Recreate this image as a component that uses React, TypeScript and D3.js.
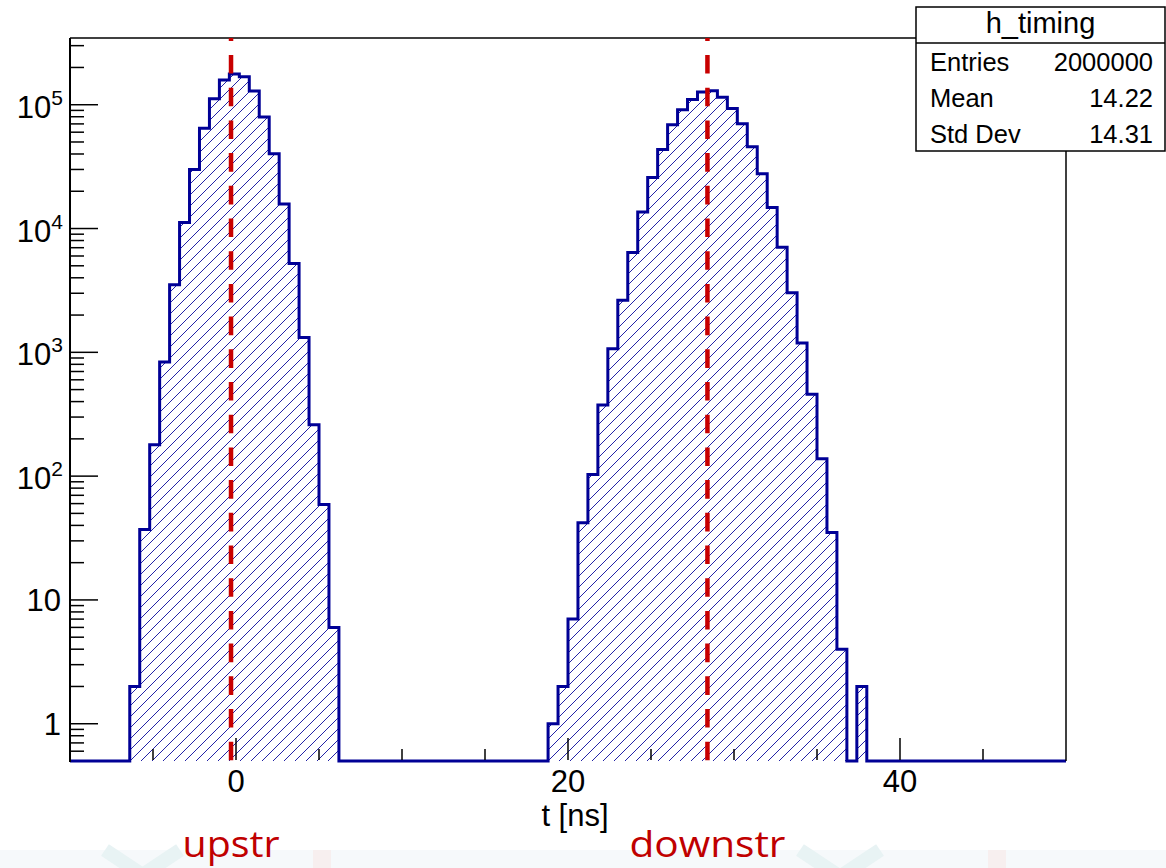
import React from 'react';
import * as d3 from 'd3';

// ---------- data ----------
const binLow = -10;
const binHigh = 50;
const binWidth = 0.6;
const nBins = 100;

const upstrFirstEdge = -6.4;
const upstrCounts = [2, 37, 179, 834, 3520, 11200, 30000, 64600, 111700, 158600, 177000, 168000, 128900, 79600, 40100, 15800, 5210, 1320, 260, 59, 6];

const downstrFirstEdge = 18.8;
const downstrCounts = [1, 2, 7, 42, 103, 375, 1070, 2640, 6400, 13600, 25800, 43500, 68900, 91200, 110000, 126800, 129800, 114800, 93300, 70100, 45800, 27700, 14800, 7060, 3030, 1190, 459, 138, 35, 4, 0, 2];

const markerPositions = [-0.3, 28.4];
const markerLabels = ['upstr', 'downstr'];

const xMajorTicks = [0, 20, 40];
const xMinorTicks = [-5, 5, 10, 15, 25, 30, 35, 45];
const yDecadeExps = [0, 1, 2, 3, 4, 5];
const yMin = 0.5;
const yMax = 345900;

const statsTitle = 'h_timing';
const statsLabels = ['Entries', 'Mean', 'Std Dev'];
const statsValues = ['2000000', '14.22', '14.31'];

const xTitle = 't [ns]';

// ---------- layout ----------
const W = 1166;
const H = 868;
const L = 70, R = 1066, T = 38, B = 761;
const FONT = '"Liberation Sans", Arial, Helvetica, sans-serif';
const HIST_BLUE = '#000096';
const RED = '#c80000';

export default function App() {
  const x = d3.scaleLinear().domain([binLow, binHigh]).range([L, R]);
  const y = d3.scaleLog().domain([yMin, yMax]).range([B, T]);

  const counts: number[] = new Array(nBins).fill(0);
  upstrCounts.forEach((c, i) => {
    const idx = Math.round((upstrFirstEdge - binLow) / binWidth) + i;
    counts[idx] = c;
  });
  downstrCounts.forEach((c, i) => {
    const idx = Math.round((downstrFirstEdge - binLow) / binWidth) + i;
    counts[idx] = c;
  });

  let d = `M${x(binLow)},${B}`;
  counts.forEach((c, i) => {
    const xl = x(binLow + i * binWidth);
    const xr = x(binLow + (i + 1) * binWidth);
    const yy = c > 0 ? y(c) : B;
    d += `L${xl},${yy}L${xr},${yy}`;
  });
  d += `L${x(binHigh)},${B}`;

  const yMinor: number[] = [];
  for (let e = -1; e <= 5; e++) {
    for (let k = 2; k <= 9; k++) {
      const v = k * Math.pow(10, e);
      if (v > yMin * 1.0001 && v < yMax) yMinor.push(v);
    }
  }

  const boxL = 916, boxR = 1165, boxT = 7, boxB = 151, boxSep = 43;

  return (
    <svg width={W} height={H} style={{ position: 'absolute', left: 0, top: 0, display: 'block', background: '#fff' }}>
      <defs>
        <pattern id="hatch" patternUnits="userSpaceOnUse" width="11" height="11">
          <path d="M0,11 L11,0 M-3,3 L3,-3 M8,14 L14,8" stroke="#0a0a9c" strokeWidth="0.9" />
        </pattern>
        <clipPath id="plotClip">
          <rect x={L} y={T} width={R - L} height={B - T + 3} />
        </clipPath>
      </defs>

      {/* faint slide background at the bottom */}
      <rect x={0} y={850} width={W} height={18} fill="#f6f9fb" />
      <g stroke="#e8f3f4" strokeWidth={14}>
        <line x1={105} y1={850} x2={150} y2={880} />
        <line x1={180} y1={850} x2={135} y2={880} />
        <line x1={800} y1={850} x2={845} y2={880} />
        <line x1={880} y1={850} x2={835} y2={880} />
      </g>
      <rect x={313} y={850} width={18} height={18} fill="#f7efef" />
      <rect x={988} y={850} width={18} height={18} fill="#f7efef" />

      {/* histogram */}
      <g clipPath="url(#plotClip)">
        <path d={d + 'Z'} fill="url(#hatch)" stroke="none" />
        <path d={d} fill="none" stroke={HIST_BLUE} strokeWidth={3} strokeLinejoin="miter" />
      </g>

      {/* frame */}
      <line x1={L} y1={T} x2={boxL} y2={T} stroke="#000" strokeWidth={1.5} />
      <line x1={R} y1={boxB} x2={R} y2={B} stroke="#000" strokeWidth={1.5} />
      <line x1={L} y1={T} x2={L} y2={B + 1} stroke="#000" strokeWidth={2} />

      {/* x ticks */}
      {xMajorTicks.map((t) => (
        <line key={'xM' + t} x1={x(t)} x2={x(t)} y1={B - 1} y2={B - 23} stroke="#000" strokeWidth={1.5} />
      ))}
      {xMinorTicks.map((t) => (
        <line key={'xm' + t} x1={x(t)} x2={x(t)} y1={B - 1} y2={B - 12} stroke="#000" strokeWidth={1.5} />
      ))}
      {xMajorTicks.map((t) => (
        <text key={'xl' + t} x={x(t)} y={792} textAnchor="middle" fontFamily={FONT} fontSize={31} fill="#000">
          {t}
        </text>
      ))}
      <text x={575} y={826} textAnchor="middle" fontFamily={FONT} fontSize={31} fill="#000">{xTitle}</text>

      {/* y ticks */}
      {yDecadeExps.map((e) => (
        <line key={'yM' + e} x1={L} x2={L + 28} y1={y(Math.pow(10, e))} y2={y(Math.pow(10, e))} stroke="#000" strokeWidth={1.5} />
      ))}
      {yMinor.map((v, i) => (
        <line key={'ym' + i} x1={L} x2={L + 14} y1={y(v)} y2={y(v)} stroke="#000" strokeWidth={1.5} />
      ))}
      {yDecadeExps.map((e) => {
        const yy = y(Math.pow(10, e));
        if (e === 0) {
          return (
            <text key={'yl' + e} x={61} y={yy + 11} textAnchor="end" fontFamily={FONT} fontSize={31} fill="#000">1</text>
          );
        }
        if (e === 1) {
          return (
            <text key={'yl' + e} x={61} y={yy + 11} textAnchor="end" fontFamily={FONT} fontSize={31} fill="#000">10</text>
          );
        }
        return (
          <text key={'yl' + e} x={63} y={yy + 13} textAnchor="end" fontFamily={FONT} fontSize={31} fill="#000">
            10<tspan fontSize={21} dy={-13}>{e}</tspan>
          </text>
        );
      })}

      {/* marker lines */}
      {markerPositions.map((m, i) => (
        <line key={'mk' + i} x1={x(m)} x2={x(m)} y1={T} y2={B} stroke={RED} strokeWidth={4.5}
          strokeDasharray="18.6 14.1" strokeDashoffset={15.7} />
      ))}
      {markerPositions.map((m, i) => (
        <text key={'ml' + i} x={x(m)} y={857} textAnchor="middle" fontFamily='"Open Sans", Lato, sans-serif'
          fontSize={36} fill="#c00000" textLength={i === 0 ? 97 : 156} lengthAdjust="spacingAndGlyphs">
          {markerLabels[i]}
        </text>
      ))}

      {/* stats box */}
      <rect x={boxL} y={boxT} width={boxR - boxL} height={boxB - boxT} fill="#fff" stroke="#000" strokeWidth={1.5} />
      <line x1={boxL} x2={boxR} y1={boxSep} y2={boxSep} stroke="#000" strokeWidth={1.5} />
      <text x={(boxL + boxR) / 2} y={33} textAnchor="middle" fontFamily={FONT} fontSize={29} fill="#000">{statsTitle}</text>
      {statsLabels.map((lab, i) => (
        <g key={'st' + i}>
          <text x={930} y={71 + i * 36} fontFamily={FONT} fontSize={25.5} fill="#000">{lab}</text>
          <text x={1153} y={71 + i * 36} textAnchor="end" fontFamily={FONT} fontSize={25.5} fill="#000">{statsValues[i]}</text>
        </g>
      ))}
    </svg>
  );
}
